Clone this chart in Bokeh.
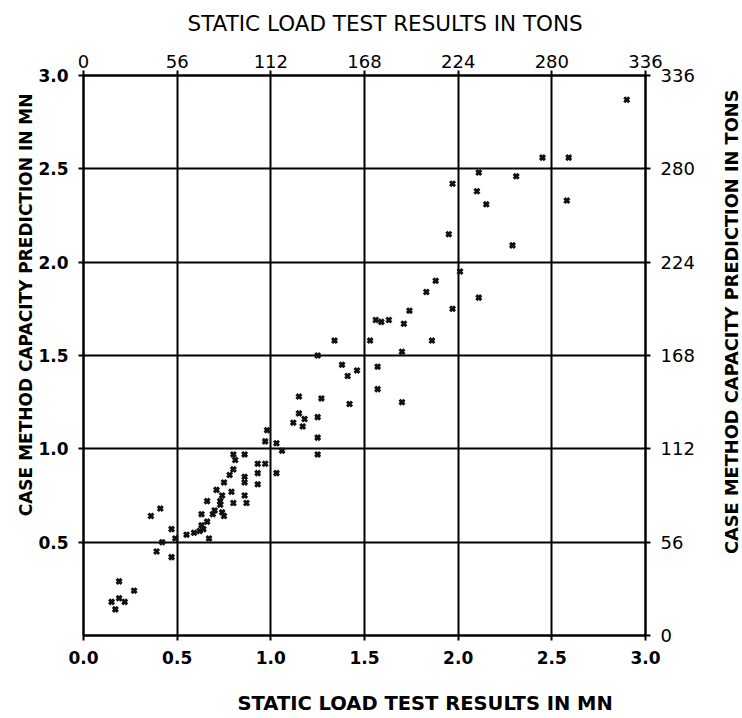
from bokeh.plotting import figure
from bokeh.layouts import row
from bokeh.models import (Range1d, LinearAxis, FixedTicker, Title, ColumnDataSource,
                          CustomJSTickFormatter)
from bokeh.embed import file_html
from bokeh.resources import INLINE

# ---- data (MN) ----
static_mn = [
    0.19, 0.27, 0.15, 0.19, 0.22, 0.17,
    0.36, 0.41, 0.47, 0.49, 0.42, 0.39, 0.47,
    0.55, 0.59, 0.62, 0.67, 0.63, 0.64, 0.66, 0.63, 0.69, 0.70,
    0.74, 0.75, 0.66, 0.73, 0.73, 0.80, 0.87, 0.86, 0.79, 0.74,
    0.71, 0.75, 0.93, 0.86, 0.86, 0.80, 0.78, 0.93, 1.03, 0.93,
    0.97, 0.80, 0.86, 0.81, 0.97, 1.03, 1.06, 0.98,
    1.15, 1.27, 1.15, 1.18, 1.12, 1.17, 1.25, 1.25, 1.25, 1.42,
    1.38, 1.46, 1.41, 1.57, 1.57, 1.70, 1.25, 1.34, 1.53, 1.70,
    1.86, 1.56, 1.59, 1.63, 1.71, 1.74, 1.97, 1.83, 1.88, 2.01,
    2.11, 1.95, 2.29, 1.97, 2.10, 2.15, 2.11, 2.31, 2.58, 2.45,
    2.59, 2.90,
]
case_mn = [
    0.29, 0.24, 0.18, 0.20, 0.18, 0.14,
    0.64, 0.68, 0.57, 0.52, 0.50, 0.45, 0.42,
    0.54, 0.55, 0.56, 0.52, 0.59, 0.57, 0.61, 0.65, 0.65, 0.67,
    0.66, 0.64, 0.72, 0.72, 0.70, 0.71, 0.71, 0.75, 0.77, 0.75,
    0.78, 0.82, 0.81, 0.85, 0.82, 0.89, 0.86, 0.87, 0.87, 0.92,
    0.92, 0.97, 0.97, 0.94, 1.04, 1.03, 0.99, 1.10,
    1.28, 1.27, 1.19, 1.16, 1.14, 1.12, 1.17, 1.06, 0.97, 1.24,
    1.45, 1.42, 1.39, 1.44, 1.32, 1.25, 1.50, 1.58, 1.58, 1.52,
    1.58, 1.69, 1.68, 1.69, 1.67, 1.74, 1.75, 1.84, 1.90, 1.95,
    1.81, 2.15, 2.09, 2.42, 2.38, 2.31, 2.48, 2.46, 2.33, 2.56,
    2.56, 2.87,
]

mn_ticks_bottom = [0.0, 0.5, 1.0, 1.5, 2.0, 2.5, 3.0]
mn_ticks_left = [0.5, 1.0, 1.5, 2.0, 2.5, 3.0]
ton_ticks = [0, 56, 112, 168, 224, 280, 336]
grid_ticks = [0.5, 1.0, 1.5, 2.0, 2.5]

title_top = "STATIC LOAD TEST RESULTS IN TONS"
title_bottom = "STATIC LOAD TEST  RESULTS IN MN"
title_left = "CASE METHOD CAPACITY PREDICTION IN MN"
title_right = "CASE METHOD CAPACITY PREDICTION IN TONS"

FONT = "DejaVu Sans"

p = figure(width=718, height=718, output_backend="svg", toolbar_location=None,
           title_location=None,
           x_range=Range1d(0, 3), y_range=Range1d(0, 3),
           min_border_left=83, min_border_right=73, min_border_top=75, min_border_bottom=83,
           background_fill_color="white", border_fill_color="white")
p.extra_x_ranges = {"tons": Range1d(0, 336)}
p.extra_y_ranges = {"tons": Range1d(0, 336)}

p.outline_line_color = "black"
p.outline_line_width = 2

for g in (p.xgrid[0], p.ygrid[0]):
    g.ticker = FixedTicker(ticks=grid_ticks)
    g.grid_line_color = "black"
    g.grid_line_width = 2
    g.grid_line_alpha = 1.0

def style_axis(ax, bold, size, standoff, tick_out):
    ax.axis_line_color = "black"
    ax.axis_line_width = 2
    ax.major_tick_line_color = "black"
    ax.major_tick_line_width = 2
    ax.major_tick_out = tick_out
    ax.major_tick_in = 0
    ax.minor_tick_line_color = None
    ax.major_label_text_font = FONT
    ax.major_label_text_font_size = size
    ax.major_label_text_font_style = "bold" if bold else "normal"
    ax.major_label_text_color = "black"
    ax.major_label_standoff = standoff

def spacer_axis(size, **kw):
    # an invisible axis (one white tick, no label) that only reserves space
    ax = LinearAxis(ticker=FixedTicker(ticks=[0]), **kw)
    ax.formatter = CustomJSTickFormatter(code="return '';")
    ax.axis_line_color = None
    ax.major_tick_line_color = "white"
    ax.major_tick_line_width = 1
    ax.major_tick_out = size
    ax.major_tick_in = 0
    ax.minor_tick_line_color = None
    ax.major_label_standoff = 0
    ax.major_label_text_font_size = "1px"
    ax.major_label_text_color = None
    return ax

xb = p.xaxis[0]
xb.ticker = FixedTicker(ticks=mn_ticks_bottom)
xb.formatter = CustomJSTickFormatter(code="return tick.toFixed(1);")
style_axis(xb, True, "17px", 10, 5)

yl = p.yaxis[0]
yl.ticker = FixedTicker(ticks=mn_ticks_left)
yl.formatter = CustomJSTickFormatter(code="return tick.toFixed(1);")
style_axis(yl, True, "17px", 10, 5)

xt = LinearAxis(x_range_name="tons", ticker=FixedTicker(ticks=ton_ticks))
style_axis(xt, False, "18px", 3, 5)
p.add_layout(xt, "above")

yr = LinearAxis(y_range_name="tons", ticker=FixedTicker(ticks=ton_ticks))
style_axis(yr, False, "18px", 10, 5)
p.add_layout(yr, "right")

src = ColumnDataSource(data=dict(x=static_mn, y=case_mn))
p.scatter("x", "y", source=src, marker="x", size=7, line_width=3,
          line_color="#111111")

# top title, pushed away from the axis by an invisible spacer axis
p.add_layout(spacer_axis(15, x_range_name="tons"), "above")
p.add_layout(Title(text=title_top, align="left", offset=104, standoff=0,
                   vertical_align="middle",
                   text_font=FONT, text_font_size="21.5px", text_font_style="normal",
                   text_color="black"), "above")

# bottom title
p.add_layout(spacer_axis(24), "below")
p.add_layout(Title(text=title_bottom, align="left", offset=154, standoff=0,
                   vertical_align="middle",
                   text_font=FONT, text_font_size="19.5px", text_font_style="bold",
                   text_color="black"), "below")

# left title
p.add_layout(Title(text=title_left, align="right", offset=18, standoff=0,
                   text_font=FONT, text_font_size="17px", text_font_style="bold",
                   text_color="black"), "left")

# right-hand title: a narrow companion figure whose left-side title reads bottom-to-top
p2 = figure(width=24, height=718, output_backend="svg", toolbar_location=None,
            title_location=None, x_axis_type=None, y_axis_type=None,
            x_range=Range1d(0, 1), y_range=Range1d(0, 1),
            min_border_left=0, min_border_right=0, min_border_top=75, min_border_bottom=83,
            background_fill_color="white", border_fill_color="white")
p2.outline_line_color = None
p2.xgrid.visible = False
p2.ygrid.visible = False
p2.add_layout(Title(text=title_right, align="right", offset=14, standoff=0,
                    text_font=FONT, text_font_size="17.8px", text_font_style="bold",
                    text_color="black"), "left")

layout = row(p, p2, spacing=0)
open("out.html", "w").write(file_html(layout, INLINE))
